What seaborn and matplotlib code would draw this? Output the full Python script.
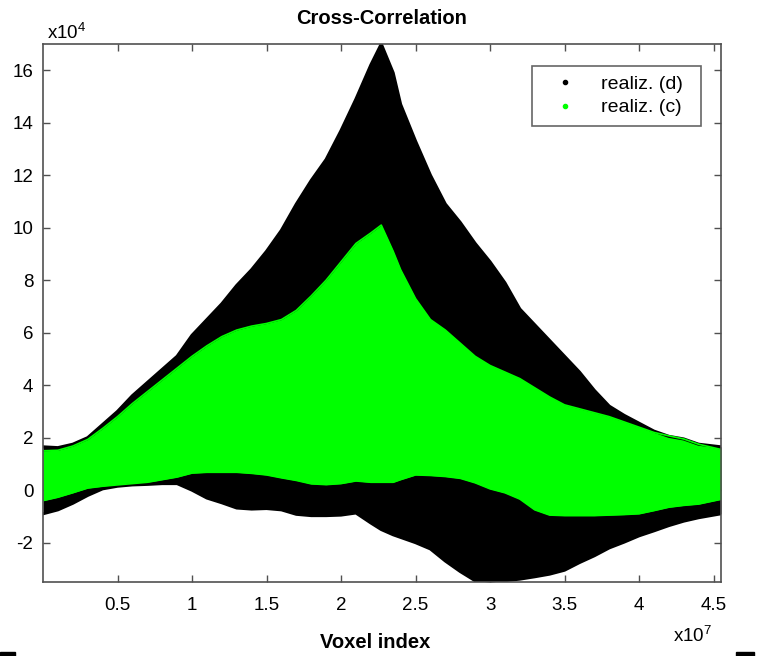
import numpy as np
import matplotlib
matplotlib.use("Agg")
import matplotlib.pyplot as plt
from matplotlib.lines import Line2D
from matplotlib.legend_handler import HandlerLine2D
from matplotlib.patches import Rectangle
import seaborn as sns

# envelope samples (x in 1e7 voxels, y in 1e4)
voxel = [0, 0.1, 0.2, 0.3, 0.4, 0.5, 0.6, 0.7, 0.8, 0.9, 1.0, 1.1, 1.2, 1.3, 1.4,
         1.5, 1.6, 1.7, 1.8, 1.9, 2.0, 2.1, 2.2, 2.27, 2.35, 2.4, 2.5, 2.6, 2.7,
         2.8, 2.9, 3.0, 3.1, 3.2, 3.3, 3.4, 3.5, 3.6, 3.7, 3.8, 3.9, 4.0, 4.1,
         4.2, 4.3, 4.4, 4.55]

# realiz. (d) - black
d_upper = [1.65, 1.62, 1.75, 2.0, 2.5, 3.0, 3.6, 4.1, 4.6, 5.1, 5.9, 6.5, 7.1, 7.8, 8.4,
           9.1, 9.9, 10.9, 11.8, 12.6, 13.7, 14.9, 16.2, 17.0, 15.9, 14.7, 13.3, 12.0, 10.9,
           10.2, 9.4, 8.7, 7.9, 6.9, 6.3, 5.7, 5.1, 4.5, 3.8, 3.2, 2.85, 2.55, 2.25,
           2.05, 1.95, 1.75, 1.65]
d_lower = [-0.9, -0.75, -0.5, -0.2, 0.05, 0.15, 0.2, 0.22, 0.25, 0.25, 0.0, -0.3, -0.48, -0.68, -0.72,
           -0.7, -0.75, -0.92, -0.97, -0.97, -0.95, -0.87, -1.25, -1.5, -1.7, -1.8, -2.0, -2.24, -2.7,
           -3.1, -3.45, -3.5, -3.45, -3.39, -3.3, -3.2, -3.05, -2.76, -2.5, -2.2, -1.98, -1.74, -1.55,
           -1.35, -1.18, -1.05, -0.9]

# realiz. (c) - green
c_upper = [1.5, 1.52, 1.68, 1.93, 2.35, 2.8, 3.3, 3.75, 4.2, 4.65, 5.1, 5.5, 5.85, 6.1, 6.25,
           6.35, 6.5, 6.85, 7.4, 8.0, 8.7, 9.4, 9.8, 10.1, 9.1, 8.4, 7.3, 6.5, 6.1,
           5.6, 5.1, 4.75, 4.5, 4.25, 3.9, 3.55, 3.25, 3.1, 2.95, 2.8, 2.6, 2.4, 2.2,
           2.07, 1.95, 1.75, 1.55]
c_lower = [-0.4, -0.27, -0.1, 0.08, 0.15, 0.2, 0.25, 0.3, 0.4, 0.5, 0.65, 0.68, 0.68, 0.68, 0.64,
           0.58, 0.47, 0.37, 0.24, 0.21, 0.25, 0.35, 0.3, 0.3, 0.3, 0.4, 0.58, 0.56, 0.52,
           0.45, 0.28, 0.05, -0.1, -0.34, -0.75, -0.95, -0.97, -0.97, -0.97, -0.95, -0.93, -0.9, -0.78,
           -0.65, -0.58, -0.53, -0.35]

xticks = [0.5, 1, 1.5, 2, 2.5, 3, 3.5, 4, 4.5]
xticklabels = ["0.5", "1", "1.5", "2", "2.5", "3", "3.5", "4", "4.5"]
yticks = [-2, 0, 2, 4, 6, 8, 10, 12, 14, 16]

green = "#00ff00"
axis_grey = "#505050"

sns.set_style("ticks")
plt.rcParams["font.family"] = ["Liberation Sans", "DejaVu Sans"]
plt.rcParams["mathtext.fontset"] = "custom"
plt.rcParams["mathtext.rm"] = "Liberation Sans"
plt.rcParams["axes.unicode_minus"] = False
plt.rcParams["text.color"] = "black"
plt.rcParams["xtick.labelcolor"] = "black"
plt.rcParams["ytick.labelcolor"] = "black"


class MarkerRight(HandlerLine2D):
    # matlab style legend: marker sits close to the label
    def get_xdata(self, legend, xdescent, ydescent, width, height, fontsize):
        return [-xdescent, -xdescent + width], [-xdescent + 0.8 * width]


fig = plt.figure(figsize=(7.57, 6.56), dpi=100)
ax = fig.add_axes([43 / 757, 1 - 582 / 656, 678 / 757, 538 / 656])

ax.fill_between(voxel, d_lower, d_upper, color="black", linewidth=0)
sns.lineplot(x=voxel, y=d_upper, color="black", linewidth=2.2, ax=ax)
sns.lineplot(x=voxel, y=d_lower, color="black", linewidth=2.2, ax=ax)
ax.fill_between(voxel, c_lower, c_upper, color=green, linewidth=0)
sns.lineplot(x=voxel, y=c_upper, color=green, linewidth=1.2, ax=ax)
sns.lineplot(x=voxel, y=c_lower, color=green, linewidth=1.2, ax=ax)

ax.set_xlim(0, 4.55)
ax.set_ylim(-3.5, 17)
ax.set_xticks(xticks)
ax.set_xticklabels(xticklabels)
ax.set_yticks(yticks)
ax.tick_params(direction="in", length=5, width=1, color=axis_grey, labelsize=13.5,
               labelcolor="black", top=True, right=True)
ax.tick_params(axis="x", pad=11)
ax.tick_params(axis="y", pad=7)
for s in ax.spines.values():
    s.set_color(axis_grey)
    s.set_linewidth(1.2)
ax.set_xlabel("")
ax.set_ylabel("")

handles = [Line2D([], [], linestyle="none", marker=".", markersize=6, color="black"),
           Line2D([], [], linestyle="none", marker=".", markersize=6, color=green)]
leg = ax.legend(handles, ["realiz. (d)", "realiz. (c)"], loc="upper left",
                bbox_to_anchor=(0.7217, 0.80, 0.2488, 0.1597), mode="expand",
                borderaxespad=0, fontsize=14, frameon=True, fancybox=False,
                edgecolor="#404040", handlelength=2.4, handletextpad=0.62,
                borderpad=0.5, labelspacing=0.3,
                handler_map={Line2D: MarkerRight()})
leg.get_frame().set_linewidth(1.2)

fig.text(382 / 757, 1 - 18 / 656, "Cross-Correlation", ha="center", va="center",
         fontsize=14.5, fontweight="bold")
fig.text(47 / 757, 1 - 33 / 656, r"x10$^{\mathrm{4}}$", ha="left", va="center", fontsize=13.5)
fig.text(375 / 757, 1 - 643 / 656, "Voxel index", ha="center", va="center",
         fontsize=14.5, fontweight="bold")
fig.text(673 / 757, 1 - 636 / 656, r"x10$^{\mathrm{7}}$", ha="left", va="center", fontsize=13.5)

fig.patches.append(Rectangle((0, 0), 15 / 757, 4 / 656, transform=fig.transFigure,
                             color="black", figure=fig))
fig.patches.append(Rectangle((736 / 757, 0), 18 / 757, 4 / 656, transform=fig.transFigure,
                             color="black", figure=fig))

fig.savefig("out.png", dpi=100)
